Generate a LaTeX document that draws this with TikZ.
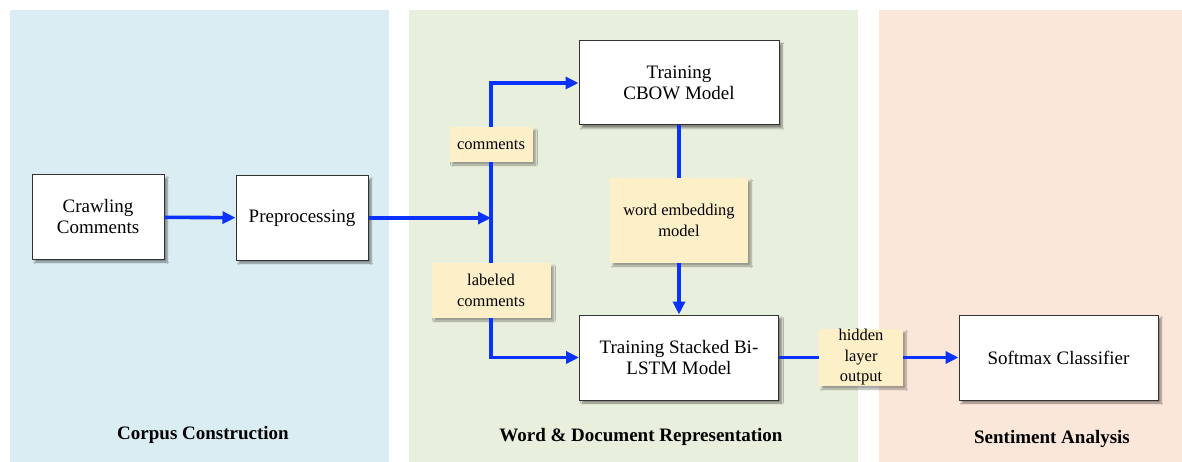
\documentclass[tikz,border=0pt]{standalone}
\usepackage{fontspec}
\setmainfont{Liberation Serif}
\usetikzlibrary{arrows.meta,shadows.blur,calc}
\definecolor{pblue}{HTML}{DAEDF3}
\definecolor{pgreen}{HTML}{E8EFDC}
\definecolor{ppeach}{HTML}{FBE7DA}
\definecolor{lab}{HTML}{FDEFC8}
\definecolor{flow}{HTML}{0A32FF}
\definecolor{edge}{HTML}{333333}
\tikzset{
  procbox/.style={draw=edge, line width=1pt, fill=white, minimum width=#1, inner sep=0pt,
    align=center, font=\fontsize{19}{21}\selectfont,
    blur shadow={shadow xshift=3pt, shadow yshift=-3pt, shadow blur steps=6, shadow opacity=45}},
  labbox/.style={fill=lab, inner sep=0pt, align=center, font=\fontsize{16.5}{20.5}\selectfont,
    blur shadow={shadow xshift=3pt, shadow yshift=-3pt, shadow blur steps=6, shadow opacity=35}},
  flowline/.style={draw=flow, line width=3.6pt},
  flowarr/.style={flowline, -{Triangle[length=13pt,width=12pt]}},
  paneltitle/.style={font=\fontsize{19}{22}\selectfont\bfseries},
}
\begin{document}
\begin{tikzpicture}[x=1pt,y=-1pt]
\useasboundingbox (0,0) rectangle (1182,462);
\fill[white] (0,0) rectangle (1182,462);
\fill[pblue] (10,10) rectangle (389,462);
\fill[pgreen] (409,10) rectangle (858,462);
\fill[ppeach] (879,10) rectangle (1182,462);

\node[procbox=132pt, minimum height=84pt] (crawl) at (98,217) {Crawling\\Comments};
\node[procbox=132pt, minimum height=84pt] (pre) at (302,218) {Preprocessing};
\node[procbox=200pt, minimum height=84pt] (cbow) at (679,83) {Training\\CBOW Model};
\node[procbox=199pt, minimum height=85pt] (lstm) at (679,357.5) {Training Stacked Bi-\\LSTM Model};
\node[procbox=199pt, minimum height=85pt] (soft) at (1058.5,357.5) {Softmax Classifier};

\node[labbox, minimum width=83pt, minimum height=35pt] (com) at (491,144.5) {comments};
\node[labbox, minimum width=138pt, minimum height=85pt] (emb) at (679,220.5) {word embedding\\model};
\node[labbox, minimum width=119pt, minimum height=55pt] (labc) at (491,290.5) {labeled\\comments};
\node[labbox, minimum width=84pt, minimum height=57pt] (hid) at (861,357.5) {hidden\\layer\\output};

\coordinate (j) at (491,218);

\draw[flowarr] (crawl) -- (pre);
\draw[flowarr] (pre) -- (j);
\draw[flowline] (com.south) -- (labc.north);
\draw[flowarr] (com.north) |- (cbow.west);
\draw[flowarr] (labc.south) |- (lstm.west);
\draw[flowline] (cbow.south) -- (emb.north);
\draw[flowarr] (emb.south) -- (lstm.north);
\draw[flowline] (lstm.east) -- (hid.west);
\draw[flowarr] (hid.east) -- (soft.west);

\node[paneltitle] (t1) at (203,435) {Corpus Construction};
\node[paneltitle] (t2) at (641,437) {Word \& Document Representation};
\node[paneltitle] (t3) at (1052,439) {Sentiment Analysis};
\end{tikzpicture}
\end{document}
